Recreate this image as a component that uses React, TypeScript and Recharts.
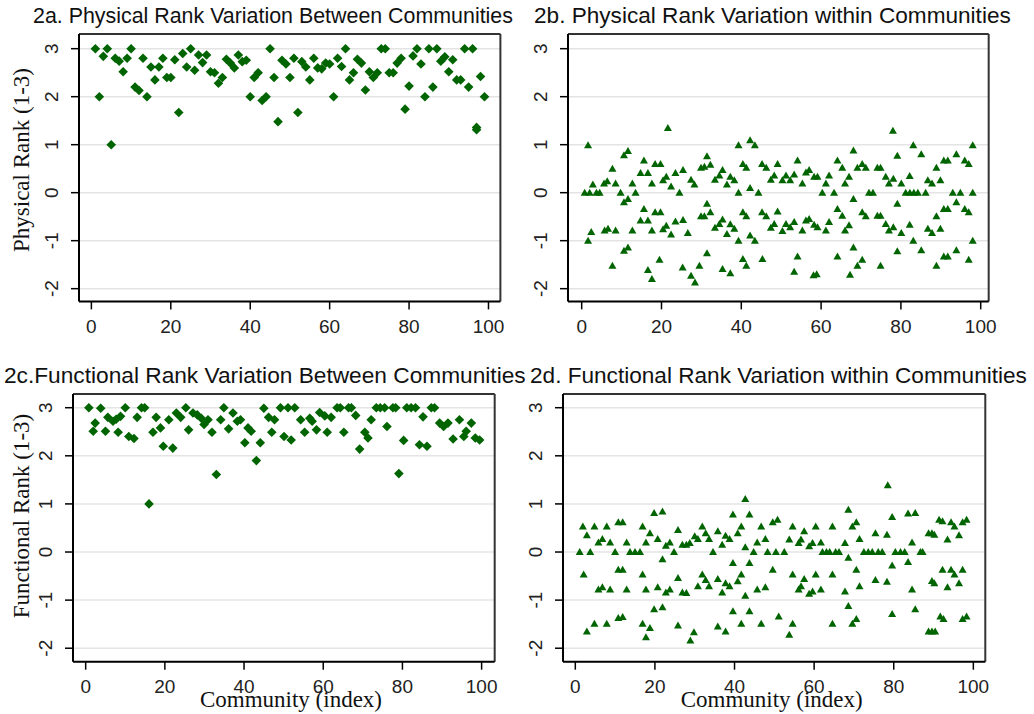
import React from 'react';
import { ScatterChart, Scatter, XAxis, YAxis, CartesianGrid, ReferenceLine } from 'recharts';

const xTicks = [0, 20, 40, 60, 80, 100];
const yTicks = [-2, -1, 0, 1, 2, 3];

const panelTitles = [
  '2a. Physical Rank Variation Between Communities',
  '2b. Physical Rank Variation within Communities',
  '2c.Functional Rank Variation Between Communities',
  '2d. Functional Rank Variation within Communities',
];
const yTitles = ['Physical Rank (1-3)', 'Functional Rank (1-3)'];
const xTitle = 'Community (index)';

// 2a: community index, mean physical rank
const physicalBetween: [number, number][] = [
  [1, 3.0], [2, 2.0], [3, 2.84], [4, 3.0], [5, 1.0], [6, 2.8], [7, 2.74], [8, 2.52], [9, 2.8], [10, 3.0],
  [11, 2.2], [12, 2.13], [13, 2.8], [14, 2.0], [15, 2.62], [16, 2.35], [17, 2.62], [18, 2.8], [19, 2.4], [20, 2.4],
  [21, 2.77], [22, 1.67], [23, 2.9], [24, 2.62], [25, 3.0], [26, 2.55], [27, 2.87], [28, 2.71], [29, 2.87], [30, 2.52],
  [31, 2.5], [32, 2.28], [33, 2.4], [34, 2.78], [35, 2.7], [36, 2.6], [37, 2.87], [38, 2.73], [39, 2.76], [40, 2.0],
  [41, 2.4], [42, 2.5], [43, 1.92], [44, 2.0], [45, 3.0], [46, 2.4], [47, 1.48], [48, 2.76], [49, 2.68], [50, 2.4],
  [51, 2.8], [52, 1.67], [53, 2.73], [54, 2.62], [55, 2.35], [56, 2.8], [57, 2.6], [58, 2.58], [59, 2.7], [60, 2.68],
  [61, 2.0], [62, 2.8], [63, 2.63], [64, 3.0], [65, 2.35], [66, 2.5], [67, 2.78], [68, 2.7], [69, 2.14], [70, 2.52],
  [71, 2.4], [72, 2.5], [73, 3.0], [74, 3.0], [75, 2.5], [76, 2.5], [77, 2.7], [78, 2.8], [79, 1.74], [80, 2.22],
  [81, 2.85], [82, 3.0], [83, 2.68], [84, 2.0], [85, 3.0], [86, 2.2], [87, 3.0], [88, 2.74], [89, 2.83], [90, 2.52],
  [91, 2.77], [92, 2.35], [93, 2.35], [94, 3.0], [95, 2.2], [96, 3.0], [97, 1.36], [97, 1.31], [98, 2.42], [99, 2.0],
];

// 2b: community index, individual deviation from community mean
const physicalWithin: [number, number][] = [
  [1.6, 0.99], [0.75, 0.0], [1.6, -1.0], [2.4, -0.82], [2.8, 0.17], [2.0, 0.0], [3.7, 0.0], [4.5, 0.0],
  [5.6, 0.19], [6.4, 0.24], [5.75, -0.79], [6.6, -0.75], [7.7, 0.5], [7.7, -1.52], [8.5, 0.19], [8.5, -0.79],
  [9.75, 0.0], [10.6, -0.2], [11.6, -0.13], [13.5, 0.0], [10.6, 0.78], [11.6, 0.87], [10.6, -1.21], [11.6, -1.14],
  [12.7, 0.19], [12.7, -0.79], [15.6, 0.67], [15.6, -0.34], [14.75, 0.41], [14.75, -0.58], [16.6, 0.41], [16.6, -0.58],
  [16.6, -1.61], [17.6, 0.19], [17.6, -0.79], [17.6, -1.8], [18.4, 0.6], [19.75, 0.6], [18.4, -0.41], [19.75, -0.41],
  [19.5, -1.4], [20.4, 0.26], [21.2, 0.33], [20.4, -0.76], [21.2, -0.69], [21.6, 1.35], [22.4, 0.13], [22.4, -0.87],
  [23.5, 0.41], [25.4, 0.47], [23.5, -0.6], [25.4, -0.57], [24.5, 0.0], [25.3, -1.56], [26.6, -0.84], [27.4, 0.27],
  [28.25, 0.17], [27.4, -1.73], [28.4, -1.87], [29.5, -1.52], [29.9, 0.52], [30.75, 0.54], [29.9, -0.49], [30.75, -0.49],
  [31.4, 0.76], [31.4, -0.23], [31.4, -1.26], [32.25, 0.58], [32.25, -0.41], [33.4, 0.27], [34.5, 0.36], [35.3, 0.47],
  [33.4, -0.73], [34.5, -0.65], [35.3, -0.56], [35.3, -1.59], [36.4, 0.17], [37.25, 0.33], [38.25, 0.26], [36.4, -0.86],
  [37.25, -0.66], [38.25, -0.75], [37.25, -1.68], [39.3, 0.99], [39.3, 0.0], [39.3, -1.0], [40.4, 0.6], [41.25, 0.52],
  [40.4, -0.41], [41.25, -0.49], [40.4, -1.38], [41.25, -1.52], [42.2, 1.09], [43.4, 0.99], [42.2, 0.1], [42.2, -0.89],
  [43.4, -1.0], [44.3, 0.0], [45.2, 0.6], [46.25, 0.52], [45.2, -0.41], [46.25, -0.49], [45.3, -1.38], [47.4, 0.27],
  [48.25, 0.36], [47.4, -0.73], [48.25, -0.65], [49.1, 0.6], [49.1, -0.39], [50.3, 0.26], [50.3, -0.8],
  [51.2, 0.36], [52.25, 0.26], [53.25, 0.38], [51.2, -0.65], [52.25, -0.72], [53.25, -0.61], [53.25, -1.65],
  [54.1, 0.67], [54.1, -1.33], [55.3, 0.19], [55.3, -0.79], [56.2, 0.42], [57, 0.47], [58.25, 0.33], [59.1, 0.33],
  [56.2, -0.58], [57, -0.55], [58.25, -0.67], [59.1, -0.72], [58.1, -1.72], [58.9, -1.7], [60.3, 0.0],
  [61.2, 0.19], [62, 0.36], [61.2, -0.79], [62, -0.61], [63.25, 0.0], [64.1, 0.67], [65.3, 0.52], [64.1, -0.34],
  [65.3, -0.48], [64.1, -1.33], [66, 0.19], [67, 0.33], [66, -0.79], [67, -0.68], [67.25, -1.71], [68.1, 0.88],
  [68.1, -0.13], [68.1, -1.14], [69.1, 0.52], [70.3, 0.6], [71.2, 0.52], [70.3, -0.41], [71.2, -0.49], [69.1, -1.52],
  [70.3, -1.4], [72, 0.0], [73, 0.0], [74.1, 0.52], [74.9, 0.52], [74.1, -0.48], [74.9, -0.48], [74.9, -1.52],
  [76.2, 0.33], [77, 0.19], [78.1, 0.29], [76.2, -0.65], [77, -0.79], [78.1, -0.72], [78, 1.29], [79.1, 0.77],
  [79.1, -0.23], [79.1, -1.22], [80.1, 0.19], [80.1, -0.84], [81.2, 0.0], [82.25, 0.0], [83.25, 0.0], [84.25, 0.0],
  [86.2, 0.0], [82.2, 0.35], [82.2, -0.67], [83.1, 0.99], [83.1, -1.0], [85.1, 0.8], [85.1, -1.2], [86.75, 0.26],
  [87.8, 0.19], [89.9, 0.26], [86.75, -0.75], [87.8, -0.84], [89.9, -0.75], [88.9, 0.52], [88.9, -0.49], [88.9, -1.52],
  [90.75, 0.67], [91.75, 0.67], [90.75, -0.34], [91.75, -0.34], [90.75, -1.33], [91.75, -1.33], [93, 0.0], [94.9, 0.0],
  [93.9, 0.8], [93.9, -0.2], [93.9, -1.2], [96, 0.67], [97, 0.6], [96, -0.34], [97, -0.41], [97, -1.4],
  [98, 0.99], [98, 0.0], [98, -1.0],
];

// 2c: community index, mean functional rank
const functionalBetween: [number, number][] = [
  [0.8, 3.0], [1.9, 2.51], [2.4, 2.68], [3.8, 2.99], [5.0, 2.51], [5.6, 2.8], [6.9, 2.72], [7.7, 2.76], [8.2, 2.49], [8.8, 2.82],
  [10.0, 3.0], [10.9, 2.4], [12.2, 2.36], [13.0, 2.8], [14.1, 3.0], [14.9, 3.0], [16.0, 1.0], [17.0, 2.49], [17.8, 2.8], [18.9, 2.58],
  [19.6, 2.2], [21.0, 2.75], [22.0, 2.16], [22.9, 2.89], [24.0, 2.8], [25.3, 3.0], [26.0, 2.54], [27.1, 2.89], [28.2, 2.85], [29.2, 2.78],
  [29.9, 2.65], [30.9, 2.75], [31.9, 2.49], [33.0, 1.61], [34.1, 2.75], [34.9, 3.0], [36.1, 2.56], [37.2, 2.89], [38.3, 2.72], [39.1, 2.75],
  [40.2, 2.27], [41.0, 2.58], [41.8, 2.51], [43.1, 1.9], [44.1, 2.27], [45.0, 2.99], [46.2, 2.8], [47.0, 2.49], [47.7, 2.75], [49.2, 3.0],
  [50.1, 2.4], [51.1, 3.0], [51.9, 2.33], [52.8, 3.0], [54.3, 2.75], [55.3, 2.49], [56.6, 2.78], [57.2, 2.72], [58.3, 2.54], [59.1, 2.9],
  [60.4, 2.83], [61.0, 2.49], [62.0, 2.8], [63.5, 3.0], [64.3, 3.0], [65.2, 2.49], [66.4, 3.0], [67.1, 3.0], [68.2, 2.84], [69.2, 2.14],
  [70.5, 2.49], [71.3, 2.37], [72.1, 2.75], [73.4, 3.0], [74.4, 3.0], [75.5, 3.0], [76.1, 2.61], [77.6, 3.0], [78.3, 3.0], [79.1, 1.63],
  [80.3, 2.32], [81.1, 3.0], [82.2, 3.0], [83.3, 3.0], [84.3, 2.23], [85.2, 2.81], [86.2, 2.2], [87.3, 3.0], [88.1, 3.0], [89.4, 2.68],
  [90.4, 2.61], [91.5, 2.68], [92.8, 2.35], [94.4, 2.75], [95.5, 2.4], [96.1, 2.51], [97.4, 2.68], [98.4, 2.37], [99.5, 2.33],
];

// 2d: community index, individual deviation from community mean
const functionalWithin: [number, number][] = [
  [1.1, 0.0], [1.9, 0.53], [2.9, 0.35], [2.1, -0.47], [2.9, -1.65], [4.8, -1.49], [3.75, 0.0], [4.8, 0.53],
  [5.8, 0.2], [6.8, 0.27], [5.8, -0.78], [6.8, -0.73], [7.9, 0.53], [7.9, -1.49], [8.75, 0.2], [8.75, -0.78],
  [10, 0.0], [10.8, 0.62], [11.9, 0.62], [10.8, -0.37], [11.9, -0.37], [10.8, -1.37], [11.9, -1.35], [12.9, 0.2],
  [12.9, -0.78], [13.75, 0.0], [15, 0.0], [16.25, 0.0], [16.9, 0.53], [16.9, -0.47], [16.9, -1.49], [17.75, 0.2],
  [17.75, -0.78], [17.75, -1.77], [18.75, 0.39], [18.75, -1.58], [19.8, 0.81], [21.9, 0.84], [19.8, -1.19], [21.9, -1.15],
  [20.7, 0.27], [20.7, -0.73], [21.9, -0.15], [22.75, 0.13], [23.75, 0.2], [22.75, -0.84], [23.75, -0.78], [24.8, 0.0],
  [25.8, 0.46], [25.8, -0.54], [25.8, -1.53], [26.9, 0.15], [27.9, 0.15], [28.75, 0.19], [26.9, -0.84], [27.9, -0.85],
  [28.9, -1.84], [29.8, -1.67], [30, 0.33], [30.8, 0.27], [30.8, -0.71], [31.9, 0.53], [32.75, 0.39], [33.6, 0.27],
  [31.9, -0.47], [32.75, -0.58], [33.6, -0.71], [34.6, 0.0], [35.8, 0.43], [35.8, -0.56], [35.8, -1.55], [36.9, 0.15],
  [37.75, 0.34], [38.75, 0.27], [36.9, -0.84], [37.75, -0.65], [38.75, -0.71], [37.75, -1.65], [39.6, 0.78], [39.6, -0.23],
  [39.6, -1.23], [40.8, 0.39], [41.7, 0.53], [40.8, -0.61], [41.7, -0.47], [41.7, -1.49], [42.7, 1.1], [42.7, 0.1],
  [42.7, -0.91], [43.75, 0.78], [43.75, -0.23], [43.75, -1.23], [44.8, 0.0], [45.7, 0.2], [46.7, 0.53], [47.75, 0.27],
  [45.7, -0.78], [47.75, -0.73], [46.7, -1.49], [48.3, 0.0], [50.4, 0.0], [49.6, 0.62], [50.8, 0.67], [49.6, -0.37],
  [51.1, -1.34], [52.5, 0.0], [53.75, 0.26], [54.6, 0.53], [53.75, -1.72], [54.6, -1.49], [54.6, -0.47],
  [56.1, 0.19], [56.7, 0.26], [57.5, 0.43], [58.75, 0.12], [59.6, 0.19], [60.4, 0.53], [61.7, 0.2],
  [56.1, -0.78], [56.7, -0.71], [57.5, -0.56], [58.75, -0.87], [59.6, -0.82], [60.4, -0.47], [61.7, -0.78],
  [62.1, 0.0], [63.1, 0.0], [63.9, 0.0], [65.4, 0.0], [66.25, 0.0], [64.6, 0.53], [64.6, -0.47], [64.6, -1.49],
  [67.75, 0.19], [67.75, -0.82], [68.6, 0.88], [68.6, -0.12], [68.6, -1.12], [69.6, 0.53], [70.6, 0.62], [70.6, -0.37],
  [69.6, -1.49], [70.6, -1.39], [71.4, 0.27], [71.4, -0.71], [72.5, 0.0], [73.6, 0.0], [74.6, 0.0], [76.1, 0.0],
  [77.1, 0.0], [75.4, 0.39], [75.4, -0.58], [78.3, 0.36], [78.3, -0.62], [78.5, 1.39], [79.6, 0.73], [79.6, -0.28],
  [79.6, -1.29], [80.4, 0.0], [81.7, 0.0], [82.75, 0.0], [83.6, 0.8], [85.4, 0.81], [83.6, -0.21], [85.4, -1.19],
  [84.6, 0.2], [84.6, -0.78], [86.7, 0.0], [87.25, 0.0], [88.75, 0.39], [89.6, 0.39], [90.2, 0.36], [89.6, -0.6],
  [90.2, -0.65], [88.75, -1.65], [89.6, -1.65], [90.4, -1.65], [91.4, 0.67], [92.25, 0.64], [92.25, -0.37], [91.7, -1.34],
  [92.5, -1.39], [93.5, 0.26], [93.5, -0.73], [94.4, 0.62], [95.25, 0.53], [94.4, -0.37], [95.25, -0.47], [96.4, 0.35],
  [96.4, -0.65], [97.3, 0.62], [98.3, 0.67], [97.3, -0.37], [97.3, -1.39], [98.3, -1.34],
];

const GREEN = '#006400';
const SANS = '"Liberation Sans", Arial, sans-serif';
const SERIF = '"Liberation Serif", "Times New Roman", serif';
const Y_AXIS_W = 60;
const X_AXIS_H = 40;
const PAD = 3;
const PAD_RIGHT = 24;

const Diamond = (props: any) => {
  const { cx, cy } = props;
  if (cx == null || cy == null) return null;
  const r = 4.8;
  return <path d={`M${cx},${cy - r}L${cx + r},${cy}L${cx},${cy + r}L${cx - r},${cy}Z`} fill={GREEN} />;
};

const Triangle = (props: any) => {
  const { cx, cy } = props;
  if (cx == null || cy == null) return null;
  return <path d={`M${cx},${cy - 4}L${cx + 4},${cy + 3}L${cx - 4},${cy + 3}Z`} fill={GREEN} />;
};

const RotatedTick = (props: any) => {
  const { x, y, payload } = props;
  const tx = x - 17.5;
  return (
    <text x={tx} y={y} transform={`rotate(-90 ${tx} ${y})`} textAnchor="middle" dominantBaseline="central"
      fontSize={19} fill="#222" fontFamily={SANS}>
      {payload.value}
    </text>
  );
};

interface PanelProps {
  plot: { left: number; top: number; right: number; bottom: number };
  xDomain: [number, number];
  yDomain: [number, number];
  points: [number, number][];
  marker: 'diamond' | 'triangle';
}

const Panel: React.FC<PanelProps> = ({ plot, xDomain, yDomain, points, marker }) => {
  const data = points.map(([x, y]) => ({ x, y }));
  const width = plot.right - plot.left + Y_AXIS_W + PAD_RIGHT;
  const height = plot.bottom - plot.top + X_AXIS_H + PAD;
  return (
    <div style={{ position: 'absolute', left: plot.left - Y_AXIS_W, top: plot.top - PAD }}>
      <ScatterChart width={width} height={height} margin={{ top: PAD, right: PAD_RIGHT, bottom: 0, left: 0 }}>
        <CartesianGrid vertical={false} stroke="#e4e4e4" strokeWidth={1.5} />
        <XAxis type="number" dataKey="x" domain={xDomain} ticks={xTicks} allowDataOverflow height={X_AXIS_H}
          tickSize={8} tickMargin={10} axisLine={{ stroke: '#000', strokeWidth: 2 }}
          tickLine={{ stroke: '#000', strokeWidth: 1.5 }}
          tick={{ fontSize: 19, fill: '#222', fontFamily: SANS }} />
        <YAxis type="number" dataKey="y" domain={yDomain} ticks={yTicks} allowDataOverflow width={Y_AXIS_W}
          tickSize={8} tickMargin={2} axisLine={{ stroke: '#000', strokeWidth: 2 }}
          tickLine={{ stroke: '#000', strokeWidth: 1.5 }} tick={<RotatedTick />} />
        <ReferenceLine y={yDomain[1]} stroke="#333" strokeWidth={2} />
        <ReferenceLine x={xDomain[1]} stroke="#333" strokeWidth={2} />
        <Scatter data={data} fill={GREEN} isAnimationActive={false}
          shape={marker === 'diamond' ? <Diamond /> : <Triangle />} />
      </ScatterChart>
    </div>
  );
};

export default function App() {
  return (
    <div style={{ position: 'absolute', left: 0, top: 0, width: 1034, height: 714, background: '#fff', overflow: 'hidden' }}>
      <Panel plot={{ left: 79.3, top: 34.3, right: 500.7, bottom: 301.7 }} xDomain={[-3.12, 103]}
        yDomain={[-2.265, 3.306]} points={physicalBetween} marker="diamond" />
      <Panel plot={{ left: 568.3, top: 34.3, right: 989, bottom: 301.7 }} xDomain={[-3.43, 102]}
        yDomain={[-2.265, 3.306]} points={physicalWithin} marker="triangle" />
      <Panel plot={{ left: 73.3, top: 394, right: 495, bottom: 661.7 }} xDomain={[-3.2, 103.3]}
        yDomain={[-2.28, 3.285]} points={functionalBetween} marker="diamond" />
      <Panel plot={{ left: 562.7, top: 394, right: 985, bottom: 661.7 }} xDomain={[-3.09, 103]}
        yDomain={[-2.28, 3.285]} points={functionalWithin} marker="triangle" />
      <svg width={1034} height={714} style={{ position: 'absolute', left: 0, top: 0, pointerEvents: 'none' }}>
        <g fontFamily={SANS} fill="#111">
          <text x={33} y={22.5} fontSize={21.4}>{panelTitles[0]}</text>
          <text x={534} y={22.5} fontSize={22.6}>{panelTitles[1]}</text>
          <text x={4} y={383} fontSize={22.7}>{panelTitles[2]}</text>
          <text x={530} y={383} fontSize={22.6}>{panelTitles[3]}</text>
        </g>
        <g fontFamily={SERIF} fontSize={23} fill="#111">
          <text x={21} y={160} transform="rotate(-90 21 160)" textAnchor="middle" dominantBaseline="central">{yTitles[0]}</text>
          <text x={21} y={516} transform="rotate(-90 21 516)" textAnchor="middle" dominantBaseline="central">{yTitles[1]}</text>
          <text x={291} y={707} textAnchor="middle">{xTitle}</text>
          <text x={771.7} y={707} textAnchor="middle">{xTitle}</text>
        </g>
      </svg>
    </div>
  );
}
